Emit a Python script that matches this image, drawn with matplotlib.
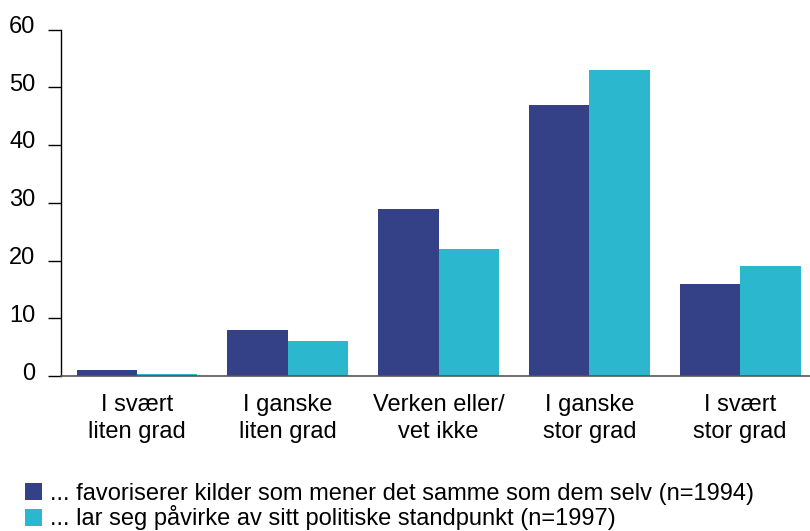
import matplotlib
matplotlib.use("Agg")
import matplotlib.pyplot as plt
import matplotlib.transforms as mtransforms
import numpy as np

plt.rcParams['font.family'] = ['Liberation Sans', 'DejaVu Sans']

categories = ["I svært\nliten grad", "I ganske\nliten grad", "Verken eller/\nvet ikke",
              "I ganske\nstor grad", "I svært\nstor grad"]
series1_name = "... favoriserer kilder som mener det samme som dem selv (n=1994)"
series2_name = "... lar seg påvirke av sitt politiske standpunkt (n=1997)"
series1 = [1, 8, 29, 47, 16]
series2 = [0.4, 6, 22, 53, 19]
yticks = [0, 10, 20, 30, 40, 50, 60]

c1 = "#344187"
c2 = "#2bb8ce"
FS = 17

fig = plt.figure(figsize=(8.10, 5.31), dpi=100)
ax = fig.add_axes([61/810, 1-376/531, 1-61/810, (376-29.5)/531])

x = np.arange(len(categories))
w = 0.401
ax.bar(x - w/2, series1, width=w, color=c1, label=series1_name)
ax.bar(x + w/2, series2, width=w, color=c2, label=series2_name)

ax.set_xlim(-0.504, 4.464)
ax.set_ylim(0, 60)
ax.set_yticks(yticks)
ax.set_yticklabels([str(t) for t in yticks], fontsize=FS)
ax.tick_params(axis='y', length=9.4, width=1, pad=9, color='black')
ax.tick_params(axis='x', length=0, pad=13)
ax.set_xticks(x)
ax.set_xticklabels(categories, fontsize=FS, linespacing=1.28)

offset = mtransforms.ScaledTranslation(0, 5/100, fig.dpi_scale_trans)
for lbl in ax.get_yticklabels():
    lbl.set_transform(lbl.get_transform() + offset)

for s in ['top', 'right']:
    ax.spines[s].set_visible(False)
ax.spines['left'].set_color('black')
ax.spines['left'].set_linewidth(1)
ax.spines['bottom'].set_color('#555555')
ax.spines['bottom'].set_linewidth(1.2)

handles, labels = ax.get_legend_handles_labels()
fig.legend(handles, labels, loc='upper left', bbox_to_anchor=(25/810, 1-483/531),
           frameon=False, fontsize=FS, handlelength=0.72, handleheight=0.72,
           handletextpad=0.35, labelspacing=0.02, borderaxespad=0, borderpad=0)

fig.savefig("out.png", dpi=100)
